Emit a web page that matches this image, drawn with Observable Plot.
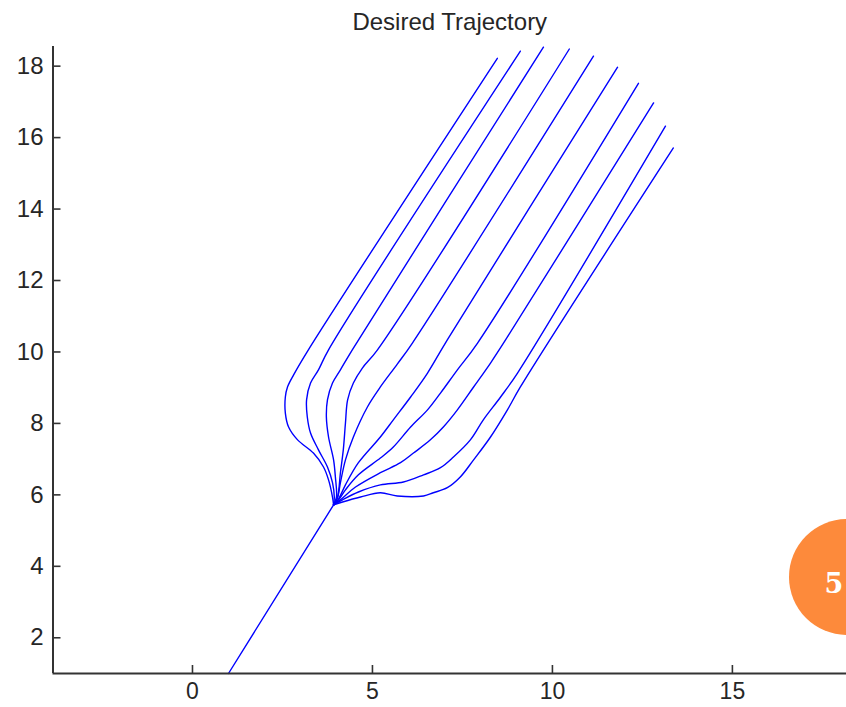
<!DOCTYPE html>
<html><head><meta charset="utf-8">
<script src="https://cdn.jsdelivr.net/npm/d3@7"></script>
<script src="https://cdn.jsdelivr.net/npm/@observablehq/plot@0.6"></script>
<style>
html,body{margin:0;padding:0;background:#fff;overflow:hidden;}
#wrap{position:relative;width:846px;height:707px;overflow:hidden;}
#badge{position:absolute;left:789px;top:519px;width:116px;height:116px;border-radius:50%;background:#fd8a3b;}
#badge span{position:absolute;left:45px;top:64px;transform:translate(-50%,-50%);color:#fff;font-family:"DejaVu Serif","Liberation Serif",serif;font-weight:bold;font-size:27px;}
</style>
</head><body>
<div id="wrap"><div id="badge"><span>5</span></div></div>
<script>
const title = "Desired Trajectory";
const xTicks = [0, 5, 10, 15];
const yTicks = [2, 4, 6, 8, 10, 12, 14, 16, 18];
const xDomain = [-3.875, 18.17];
const yDomain = [1, 18.55];

const stem = [[1.00,1.00],[3.92,5.72]];
const traj1 = [[3.92,5.72],[3.89,5.94],[3.78,6.42],[3.64,6.78],[3.36,7.17],[2.92,7.54],[2.67,7.90],[2.58,8.29],[2.58,8.74],[2.64,9.02],[2.81,9.36],[3.22,10.06],[8.47,18.22]];
const traj2 = [[3.92,5.72],[3.94,5.94],[3.89,6.34],[3.75,6.78],[3.50,7.26],[3.28,7.73],[3.19,8.18],[3.17,8.66],[3.28,9.13],[3.50,9.50],[3.78,10.06],[9.11,18.42]];
const traj3 = [[3.92,5.72],[4.00,5.94],[3.97,6.50],[3.92,6.98],[3.78,7.62],[3.72,8.18],[3.75,8.66],[3.89,9.13],[4.11,9.50],[4.44,10.06],[9.75,18.53]];
const traj4 = [[3.92,5.72],[4.03,5.94],[4.11,6.62],[4.19,7.26],[4.25,8.01],[4.31,8.66],[4.47,9.13],[4.72,9.55],[5.14,10.06],[10.47,18.48]];
const traj5 = [[3.92,5.72],[4.03,5.92],[4.11,6.34],[4.25,6.98],[4.47,7.62],[4.86,8.46],[5.22,9.02],[5.69,9.66],[6.11,10.25],[11.14,18.28]];
const traj6 = [[3.92,5.72],[4.06,5.89],[4.25,6.28],[4.61,6.90],[5.22,7.62],[5.58,8.10],[6.06,8.74],[6.53,9.41],[7.08,10.34],[11.81,17.97]];
const traj7 = [[3.92,5.72],[4.06,5.86],[4.25,6.14],[4.61,6.56],[5.22,7.03],[5.58,7.34],[6.06,7.90],[6.53,8.38],[6.89,8.85],[7.36,9.50],[7.92,10.25],[12.39,17.52]];
const traj8 = [[3.92,5.72],[4.11,5.86],[4.53,6.22],[5.22,6.62],[5.78,6.90],[6.14,7.17],[6.61,7.54],[6.97,7.90],[7.36,8.38],[7.81,9.02],[8.28,9.69],[8.75,10.42],[12.81,16.97]];
const traj9 = [[3.92,5.72],[4.17,5.86],[4.61,6.08],[5.22,6.28],[5.86,6.36],[6.42,6.56],[6.89,6.76],[7.25,7.06],[7.72,7.54],[8.08,8.10],[8.56,8.74],[9.03,9.41],[13.14,16.32]];
const traj10 = [[3.92,5.72],[4.17,5.80],[4.67,5.94],[5.22,6.06],[5.69,5.97],[6.42,5.97],[6.69,6.06],[7.08,6.20],[7.44,6.50],[7.81,6.98],[8.28,7.62],[8.75,8.38],[9.11,9.02],[13.36,15.71]];

const trajs = [traj1, traj2, traj3, traj4, traj5, traj6, traj7, traj8, traj9, traj10];
const rows = trajs.flatMap((pts, k) => pts.map(([x, y]) => ({x, y, k})));
const stemRows = stem.map(([x, y]) => ({x, y}));

const W = 846, H = 707, mL = 52.5, mR = 0, mT = 46, mB = 34;
const tickLen = 8;
const ink = "#262626";
const chart = Plot.plot({
  width: W, height: H,
  marginLeft: mL, marginRight: mR, marginTop: mT, marginBottom: mB,
  x: {domain: xDomain},
  y: {domain: yDomain},
  style: {fontFamily: "'Liberation Sans', Arial, sans-serif", fontSize: "24px", color: ink, background: "transparent"},
  marks: [
    Plot.line(stemRows, {x: "x", y: "y", stroke: "#0000ff", strokeWidth: 1.4}),
    Plot.line(rows, {x: "x", y: "y", z: "k", stroke: "#0000ff", strokeWidth: 1.4, curve: "catmull-rom"}),
    Plot.ruleX(xTicks, {stroke: "#333", strokeWidth: 1.6, insetTop: H - mT - mB - tickLen}),
    Plot.ruleY(yTicks, {stroke: "#333", strokeWidth: 1.6, insetRight: W - mL - mR - tickLen}),
    Plot.ruleX([xDomain[0]], {stroke: "#333", strokeWidth: 2}),
    Plot.ruleY([yDomain[0]], {stroke: "#333", strokeWidth: 2}),
    Plot.axisY(yTicks, {anchor: "left", tickSize: 0, tickPadding: 9.5, fill: ink, fontSize: 24, label: null}),
    Plot.axisX(xTicks, {anchor: "bottom", tickSize: 0, tickPadding: 9, fill: ink, fontSize: 23, label: null}),
    Plot.text([title], {frameAnchor: "top", lineAnchor: "middle", dy: -24, fontSize: 24, fill: ink})
  ]
});
document.getElementById("wrap").prepend(chart);
</script>
</body></html>
